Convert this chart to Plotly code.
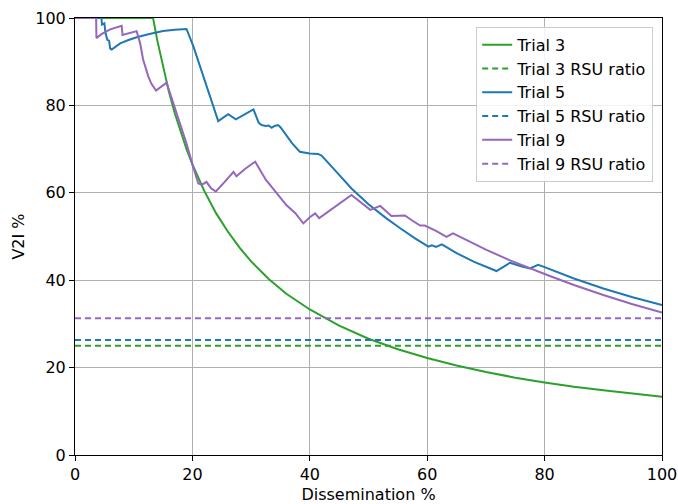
import plotly.graph_objects as go

# Trial 3
t3_x = [0, 13.3, 14, 15, 16, 17, 18, 19, 20, 22, 24, 26, 28, 30, 33, 36, 40, 45, 50, 55, 60, 65, 70, 75, 80, 85, 90, 95, 100]
t3_y = [100, 100, 95.0, 88.7, 83.1, 78.2, 73.9, 70.0, 66.5, 60.5, 55.4, 51.2, 47.5, 44.3, 40.3, 36.9, 33.3, 29.6, 26.6, 24.2, 22.2, 20.5, 19.0, 17.7, 16.6, 15.6, 14.8, 14.0, 13.3]
t3_rsu = 25.0

# Trial 5
t5_x = [0, 4.5, 4.6, 5.0, 5.2, 5.5, 5.8, 6.0, 6.25, 7.7, 9.0, 10.5, 12.5, 15.0, 17.0, 19.0, 20.2, 21.9, 23.0, 24.4,
        26.1, 27.4, 30.4, 31.3, 31.8, 32.5, 33.0, 33.5, 34.0, 34.6, 35.0, 36.0, 37.0, 38.3, 39.0, 40.0, 41.4, 42.0,
        44.0, 47.1, 50.0, 53.0, 55.4, 58.0, 60.2, 60.8, 61.5, 62.5, 65.0, 68.0, 71.8, 74.1, 76.0, 77.5, 78.9, 80.0,
        85.0, 90.0, 95.0, 100]
t5_y = [100, 100, 98.5, 98.8, 96.5, 95.0, 94.8, 93.0, 92.8, 94.2, 94.9, 95.6, 96.3, 97.0, 97.3, 97.5, 93.4, 86.6, 81.8, 76.4,
        78.0, 76.8, 79.1, 76.0, 75.5, 75.3, 75.4, 74.9, 75.3, 75.5, 75.0, 73.2, 71.3, 69.4, 69.2, 69.0, 68.9, 68.5,
        65.6, 61.0, 57.4, 54.2, 51.9, 49.5, 47.7, 48.0, 47.6, 48.2, 46.2, 44.2, 42.1, 44.0, 43.2, 42.7, 43.5, 43.0,
        40.4, 38.1, 36.1, 34.3]
t5_rsu = 26.3

# Trial 9
t9_x = [0, 3.6, 3.65, 4.5, 6.0, 7.95, 8.1, 10.5, 11.1, 11.6, 12.5, 13.0, 13.8, 15.6, 16.5, 17.9, 19.0, 20.0, 21.0,
        21.6, 22.4, 23.2, 24.0, 25.5, 27.0, 27.5, 29.0, 30.7, 32.5, 34.6, 36.0, 37.5, 38.9, 40.0, 40.9, 41.6,
        44.5, 47.1, 50.3, 52.0, 53.9, 55.4, 56.2, 57.5, 58.8, 59.6, 61.5, 63.3, 64.4, 67.0, 70.0, 74.0, 77.5,
        81.0, 85.0, 90.0, 95.0, 100]
t9_y = [100, 100, 95.4, 96.3, 97.4, 98.2, 96.1, 97.0, 94.2, 90.5, 86.6, 85.0, 83.4, 85.2, 81.5, 75.9, 71.3, 66.5, 62.2,
        61.8, 62.5, 61.0, 60.3, 62.5, 64.8, 63.8, 65.5, 67.1, 63.0, 59.5, 57.2, 55.4, 53.0, 54.4, 55.3, 54.2,
        56.9, 59.5, 56.1, 57.0, 54.7, 54.7, 54.8, 53.6, 52.5, 52.5, 51.3, 49.9, 50.7, 49.0, 47.0, 44.6, 42.7,
        40.9, 38.9, 36.6, 34.5, 32.6]
t9_rsu = 31.3

GREEN = "#2ca02c"
BLUE = "#1f77b4"
PURPLE = "#9467bd"
DASH = "6px,4px"

fig = go.Figure()
series = [
    (t3_x, t3_y, "Trial 3", GREEN, "solid"),
    ([0, 100], [t3_rsu, t3_rsu], "Trial 3 RSU ratio", GREEN, DASH),
    (t5_x, t5_y, "Trial 5", BLUE, "solid"),
    ([0, 100], [t5_rsu, t5_rsu], "Trial 5 RSU ratio", BLUE, DASH),
    (t9_x, t9_y, "Trial 9", PURPLE, "solid"),
    ([0, 100], [t9_rsu, t9_rsu], "Trial 9 RSU ratio", PURPLE, DASH),
]
for i, (xs, ys, name, col, dash) in enumerate(series):
    fig.add_trace(go.Scatter(x=xs, y=ys, mode="lines", name=name, legendgroup=f"g{i}",
                             line=dict(color=col, width=2, dash=dash)))

tf = dict(family="DejaVu Sans", size=16, color="black")
axis_common = dict(
    showgrid=True, gridcolor="#b0b0b0", gridwidth=1,
    showline=True, linecolor="black", linewidth=1, mirror=True,
    ticks="outside", ticklen=5, tickcolor="black",
    zeroline=False, tickfont=tf, dtick=20, automargin=False,
)
fig.update_xaxes(range=[0, 100], title=dict(text="Dissemination %", font=tf, standoff=6), **axis_common)
fig.update_yaxes(range=[0, 100], title=dict(text="V2I %", font=tf, standoff=6), **axis_common)

fig.update_layout(
    width=678, height=504,
    margin=dict(l=75, r=16, t=18, b=49),
    plot_bgcolor="white", paper_bgcolor="white",
    font=tf,
    legend=dict(x=0.985, y=0.98, xanchor="right", yanchor="top",
                bgcolor="rgba(255,255,255,0.85)", bordercolor="#cccccc", borderwidth=1,
                font=tf, traceorder="grouped", tracegroupgap=0),
    showlegend=True,
)

fig.write_html("out.html", config={"displayModeBar": False},
               post_script="document.body.style.margin='0px';")
